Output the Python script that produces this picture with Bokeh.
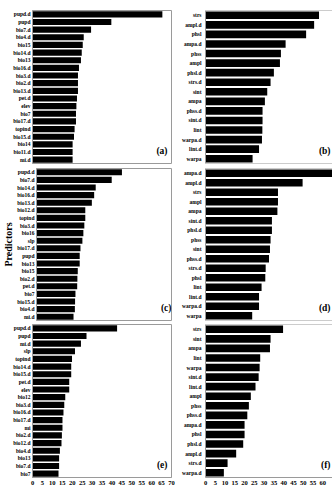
from bokeh.plotting import figure
from bokeh.models import FactorRange, Range1d, FixedTicker, Label, Span
from bokeh.layouts import column, row
from bokeh.embed import file_html
from bokeh.resources import INLINE

# ---------------- data ----------------
labels_a = ["pupd.d", "pupd", "bio7.d", "bio4.d", "bio15", "bio14.d", "bio13", "bio16.d",
            "bio3.d", "bio2.d", "bio13.d", "pet.d", "elev", "bio7", "bio17.d", "topind",
            "bio15.d", "bio14", "bio11.d", "mi.d"]
values_a = [65.4, 39.7, 29.5, 25.8, 25.3, 24.8, 24.4, 23.4, 22.9, 22.9, 22.9, 22.4,
            22.1, 21.9, 21.9, 21.2, 20.9, 20.2, 20.2, 20.2]

labels_b = ["strs", "ampl.d", "phsl", "ampa.d", "phss", "ampl", "phsl.d", "strs.d",
            "sint", "ampa", "phss.d", "sint.d", "lint", "warpa.d", "lint.d", "warpa"]
values_b = [58.1, 55.6, 51.5, 41.0, 38.6, 38.1, 35.0, 33.3, 31.6, 30.4, 29.2, 29.2,
            29.1, 28.9, 27.4, 24.1]

labels_c = ["pupd.d", "bio7.d", "bio14.d", "bio16.d", "bio13.d", "bio12.d", "topind",
            "bio3.d", "bio16", "slp", "bio17.d", "pupd", "bio13", "bio15", "bio2.d",
            "pet.d", "bio7", "bio15.d", "bio4.d", "mi.d"]
values_c = [44.3, 39.0, 30.7, 29.9, 28.7, 25.3, 25.3, 24.8, 24.3, 23.8, 22.8, 22.4,
            22.4, 21.4, 21.2, 21.1, 20.2, 20.0, 19.9, 19.2]

labels_d = ["ampa.d", "ampl.d", "strs", "ampl", "ampa", "sint.d", "phsl.d", "phss",
            "sint", "phss.d", "strs.d", "phsl", "lint", "lint.d", "warpa.d", "warpa"]
values_d = [66.0, 49.7, 37.1, 37.1, 36.8, 34.0, 34.0, 33.3, 33.0, 32.5, 30.8, 30.6,
            28.7, 27.4, 27.4, 23.9]

labels_e = ["pupd.d", "pupd", "mi.d", "slp", "topind", "bio14.d", "bio15.d", "pet.d",
            "elev", "bio12", "bio3.d", "bio16.d", "bio17.d", "mi", "bio2.d", "bio12.d",
            "bio4.d", "bio13", "bio7.d", "bio7"]
values_e = [42.6, 27.2, 24.4, 21.4, 19.9, 19.5, 19.5, 18.5, 18.5, 16.5, 16.0, 15.6,
            15.1, 15.1, 14.8, 14.6, 13.8, 13.4, 13.4, 13.1]

labels_f = ["strs", "sint", "ampa", "lint", "warpa", "sint.d", "lint.d", "ampl", "phss",
            "phss.d", "ampa.d", "phsl", "phsl.d", "ampl.d", "strs.d", "warpa.d"]
values_f = [39.7, 33.3, 33.0, 28.0, 27.7, 27.2, 25.6, 23.2, 22.2, 21.4, 20.0, 20.0,
            19.3, 15.7, 11.3, 9.4]

x_ticks_left = [0, 5, 10, 15, 20, 25, 30, 35, 40, 45, 50, 55, 60, 65, 70]
x_ticks_right = [0, 5, 10, 15, 20, 25, 30, 35, 40, 45, 50, 55, 60]
panel_tags = ["(a)", "(b)", "(c)", "(d)", "(e)", "(f)"]
y_title = "Predictors"

# ---------------- styling ----------------
FRAME = "#9a9a9a"
FONT = "Liberation Serif"
ROW_H = [165, 157, 168]
ROW_TOP = [10, 3, 2]
ROW_BOT = [2, 2, 13]


def make_panel(labels, values, tag, side, r, ytitle=None):
    bottom = (r == 2)
    left = (side == "left")
    p = figure(
        width=175 if left else 157,
        height=ROW_H[r],
        x_range=Range1d(0, 70 if left else 65),
        y_range=FactorRange(factors=labels[::-1], range_padding=0),
        output_backend="svg",
        toolbar_location=None,
        x_axis_location="below" if bottom else None,
        min_border_left=32 if left else 30,
        min_border_right=4 if left else 0,
        min_border_top=ROW_TOP[r],
        min_border_bottom=ROW_BOT[r],
        background_fill_color="white",
        border_fill_color="white",
    )
    p.hbar(y=labels, right=values, left=0, height=0.8,
           fill_color="black", line_color=None)
    p.grid.visible = False

    ya = p.yaxis[0]
    ya.major_tick_line_color = None
    ya.minor_tick_line_color = None
    ya.major_tick_out = 0
    ya.major_tick_in = 0
    ya.axis_line_color = FRAME
    ya.major_label_text_font = FONT
    ya.major_label_text_font_style = "bold"
    ya.major_label_text_font_size = "5.5px"
    ya.major_label_text_color = "black"
    ya.major_label_standoff = 2 if left else 4
    if ytitle:
        ya.axis_label = ytitle
        ya.axis_label_text_font = FONT
        ya.axis_label_text_font_style = "bold"
        ya.axis_label_text_font_size = "10px"
        ya.axis_label_text_color = "black"
        ya.axis_label_standoff = 0

    if bottom:
        xa = p.xaxis[0]
        xa.ticker = FixedTicker(ticks=x_ticks_left if left else x_ticks_right)
        xa.major_tick_line_color = None
        xa.minor_tick_line_color = None
        xa.major_tick_out = 0
        xa.major_tick_in = 0
        xa.axis_line_color = FRAME
        xa.major_label_text_font = FONT
        xa.major_label_text_font_style = "bold"
        xa.major_label_text_font_size = "6.5px"
        xa.major_label_text_color = "black"
        xa.major_label_standoff = 3

    if left:
        p.outline_line_color = FRAME
    else:
        p.outline_line_color = None
        p.add_layout(Span(location=0, dimension="width", line_color=FRAME, line_width=1))
        p.add_layout(Span(location=len(labels), dimension="width", line_color=FRAME, line_width=1))

    p.add_layout(Label(x=135 if left else 125, y=13, x_units="screen", y_units="screen",
                       text=tag, text_font=FONT, text_font_style="bold",
                       text_font_size="9.5px", text_align="right",
                       text_baseline="middle", text_color="black"))
    return p


pa = make_panel(labels_a, values_a, panel_tags[0], "left", 0)
pb = make_panel(labels_b, values_b, panel_tags[1], "right", 0)
pc = make_panel(labels_c, values_c, panel_tags[2], "left", 1, ytitle=y_title)
pd_ = make_panel(labels_d, values_d, panel_tags[3], "right", 1)
pe = make_panel(labels_e, values_e, panel_tags[4], "left", 2)
pf = make_panel(labels_f, values_f, panel_tags[5], "right", 2)

layout = column(row(pa, pb), row(pc, pd_), row(pe, pf))

open("out.html", "w").write(file_html(layout, INLINE))
